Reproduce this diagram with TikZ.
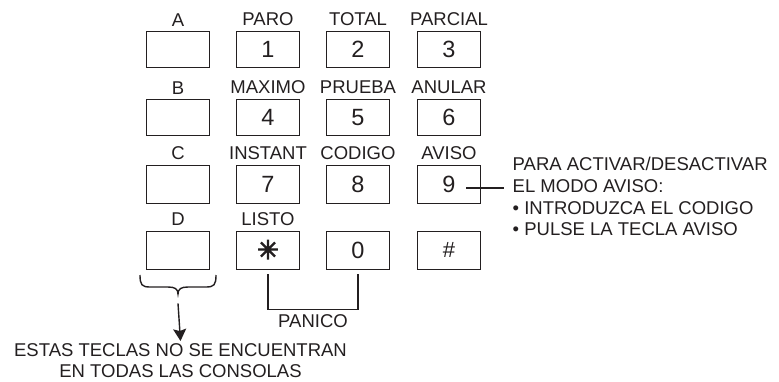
\documentclass[tikz,border=0pt]{standalone}
\usepackage{fontspec}
\setmainfont{Liberation Sans}
\newfontfamily\starfont[FakeBold=4]{DejaVu Sans Bold}
\usetikzlibrary{arrows.meta,positioning,calc}
\definecolor{ink}{RGB}{35,31,32}

\begin{document}
\begin{tikzpicture}[x=1pt, y=-1pt, line width=1.4pt, draw=ink, text=ink,
    key/.style={draw, minimum width=63pt, minimum height=36pt, inner sep=0pt,
      font=\fontsize{23.5}{23.5}\selectfont},
    tall/.style={minimum height=38.5pt},
    every label/.style={inner sep=0pt, text=ink, font=\fontsize{18.5}{18.5}\selectfont},
    label distance=4pt]
  \useasboundingbox (0,0) rectangle (779,381);
  % row 1
  \node[key, label=above:A] (kA) at (178, 49.5) {};
  \node[key, label=above:PARO] (k1) at (268, 49.5) {1};
  \node[key, label=above:TOTAL] (k2) at (358, 49.5) {2};
  \node[key, label=above:PARCIAL] (k3) at (449, 49.5) {3};
  % row 2
  \node[key, label=above:B] (kB) at (178, 117.5) {};
  \node[key, label=above:MAXIMO] (k4) at (268, 117.5) {4};
  \node[key, label=above:PRUEBA] (k5) at (358, 117.5) {5};
  \node[key, label=above:ANULAR] (k6) at (449, 117.5) {6};
  % row 3
  \node[key, tall, label=above:C] (kC) at (178, 184.5) {};
  \node[key, tall, label=above:INSTANT] (k7) at (268, 184.5) {7};
  \node[key, tall, label=above:CODIGO] (k8) at (358, 184.5) {8};
  \node[key, tall, label=above:AVISO] (k9) at (449, 184.5) {9};
  % row 4
  \node[key, tall, label=above:D] (kD) at (178, 250.5) {};
  \node[key, tall, label=above:LISTO] (kstar) at (268, 250.5)
    {\raisebox{2pt}{\starfont\fontsize{26}{26}\selectfont ✳}\hspace{16pt}};
  \node[key, tall] (k0) at (358, 250.5) {0};
  \node[key, tall, font=\fontsize{22}{22}\selectfont] (khash) at (449, 250.5)
    {\raisebox{2pt}{\#}};

  \node[anchor=north west, align=left, inner sep=0pt,
    font=\fontsize{18.5}{21.7}\selectfont] (note) at (512, 156.5)
    {PARA ACTIVAR/DESACTIVAR\\EL MODO AVISO:\\• INTRODUZCA EL CODIGO\\• PULSE LA TECLA AVISO};
  \coordinate (avisotip) at ($(k9.center)+(17,3.5)$);
  \draw[shorten >=8pt] (avisotip) -- (avisotip -| note.west);

  % panic keys
  \draw ([yshift=-4pt]kstar.south) -- ++(0,35) coordinate (panicl)
    -- (panicl -| k0.south) node[midway, below=4.5pt, inner sep=0pt,
      font=\fontsize{18.5}{18.5}\selectfont] (panico) {PANICO}
    -- ([yshift=-4pt]k0.south);

  % optional keys
  \draw (140,275) .. controls (140,285) and (142,287) .. (150,287) -- (168,287)
    .. controls (175,287) and (178,289) .. (178,294)
    .. controls (178,289) and (181,287) .. (188,287) -- (206,287)
    .. controls (214,287) and (216,285) .. (216,275);
  \coordinate (bracetip) at ($(kD.south)+(0,33)$);
  \node[anchor=north, align=center, inner sep=0pt,
    font=\fontsize{18.5}{21.3}\selectfont] (consolas) at (180.5, 343)
    {ESTAS TECLAS NO SE ENCUENTRAN\\EN TODAS LAS CONSOLAS};
  \draw[-{Stealth[length=12pt, width=13pt, inset=2pt]}] (bracetip) -- ([yshift=2pt]consolas.north);
\end{tikzpicture}
\end{document}
